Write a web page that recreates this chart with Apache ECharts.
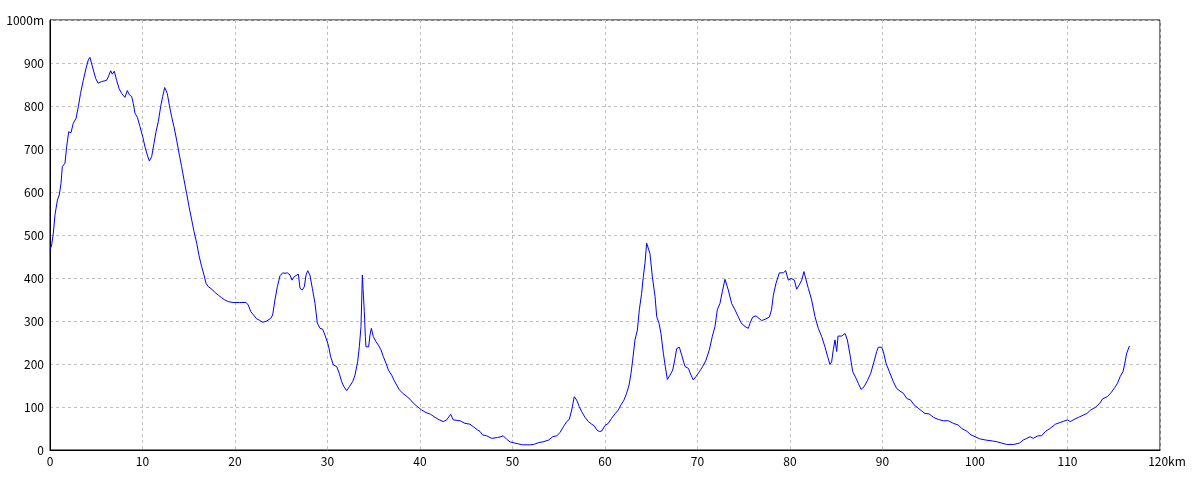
<!DOCTYPE html>
<html>
<head>
<meta charset="utf-8">
<script src="https://cdn.jsdelivr.net/npm/echarts@6/dist/echarts.min.js"></script>
<style>html,body{margin:0;padding:0;background:#fff}#c{width:1200px;height:480px}</style>
</head>
<body>
<div id="c"></div>
<script>
const distKm = [0,0.18,0.36,0.54,0.8,1.0,1.19,1.33,1.62,1.8,2.02,2.27,2.52,2.81,3.06,3.3,3.6,3.9,4.14,4.32,4.5,4.68,4.94,5.2,5.33,5.59,5.84,6.13,6.34,6.56,6.74,6.95,7.2,7.46,7.75,8.1,8.36,8.58,8.83,9.0,9.19,9.44,9.73,10.02,10.27,10.52,10.74,10.99,11.24,11.46,11.71,11.96,12.18,12.4,12.54,12.68,12.9,13.15,13.4,13.69,13.95,14.23,14.49,14.77,15.03,15.32,15.57,15.86,16.1,16.4,16.65,16.86,17.1,17.5,17.8,18.2,18.56,18.9,19.28,19.8,20.5,21.2,21.44,21.7,22.0,22.34,22.63,23.0,23.42,23.86,24.07,24.32,24.58,24.86,25.15,25.4,25.66,25.8,25.95,26.16,26.4,26.6,26.85,27.03,27.28,27.5,27.68,27.86,28.1,28.36,28.65,28.9,29.19,29.48,29.73,30.09,30.34,30.63,30.99,31.28,31.53,31.78,32.07,32.36,32.72,32.97,33.26,33.44,33.62,33.77,33.84,33.98,34.09,34.16,34.45,34.59,34.74,34.95,35.24,35.5,35.78,36.04,36.32,36.58,36.94,37.22,37.48,37.77,38.13,38.49,38.92,39.28,39.71,40.18,40.65,41.15,41.62,42.09,42.52,42.88,43.32,43.6,44.32,44.86,45.4,45.77,46.2,46.49,46.77,47.2,47.75,48.36,48.76,49.0,49.37,49.73,50.27,51.1,51.9,52.3,52.8,53.3,53.9,54.35,54.8,55.14,55.5,55.86,56.14,56.4,56.68,56.94,57.22,57.48,57.84,58.2,58.56,58.85,59.1,59.39,59.64,60.0,60.36,60.72,61.08,61.44,61.73,62.05,62.34,62.6,62.81,62.99,63.24,63.5,63.71,63.96,64.14,64.32,64.5,64.68,64.86,65.12,65.41,65.59,65.84,66.05,66.31,66.52,66.74,67.03,67.32,67.57,67.75,68.04,68.29,68.65,69.01,69.3,69.55,69.84,70.2,70.56,70.92,71.28,71.6,71.89,72.14,72.43,72.68,72.97,73.33,73.69,74.05,74.41,74.7,75.14,75.5,75.68,75.96,76.32,76.65,76.94,77.3,77.77,78.0,78.2,78.49,78.85,79.28,79.53,79.82,80.11,80.47,80.72,81.0,81.27,81.5,81.69,81.98,82.34,82.7,83.06,83.42,83.78,84.07,84.32,84.5,84.68,84.86,85.05,85.19,85.59,85.95,86.2,86.49,86.78,87.14,87.39,87.68,88.0,88.36,88.72,89.08,89.37,89.55,89.91,90.09,90.38,90.74,91.17,91.53,91.89,92.25,92.61,93.05,93.41,93.87,94.23,94.59,95.03,95.5,96.04,96.58,97.12,97.66,98.2,98.56,99.1,99.57,100.0,100.5,101.2,101.9,102.4,102.9,103.4,104.2,104.8,105.2,105.6,105.96,106.3,106.8,107.2,107.6,108.1,108.7,109.2,109.6,110.0,110.3,110.7,111.2,111.7,112.1,112.5,113.0,113.5,113.8,114.3,114.7,115.1,115.4,115.7,116.0,116.2,116.4,116.7];
const elevM = [465,477,504,547,581,593,620,659,667,705,740,738,760,771,798,829,860,888,907,913,911,884,864,853,849,857,858,860,870,882,874,881,860,841,829,820,836,826,822,806,783,774,752,729,705,686,672,682,713,740,764,798,822,843,847,829,802,775,752,721,690,659,628,597,566,535,508,481,453,426,407,388,380,374,367,360,354,349,345,343,343,343,337,322,314,305,302,297,300,306,314,349,380,405,412,411,412,416,407,395,403,399,409,376,372,380,407,417,407,376,341,295,283,281,267,244,217,198,194,178,159,147,138,147,159,174,205,240,287,407,376,322,264,240,240,267,283,264,252,244,233,217,202,186,174,161,151,140,132,126,118,109,101,93,87,83,76,70,66,70,83,70,68,62,60,54,47,43,35,33,27,29,31,33,25,19,16,12,12,13,17,19,23,31,33,41,54,66,71,93,124,116,101,89,76,66,60,56,47,43,44,57,62,74,84,93,105,116,132,151,178,209,256,279,326,364,403,434,481,481,457,403,357,310,295,271,225,194,164,174,186,213,236,239,221,194,190,174,163,171,182,194,209,233,264,287,326,341,368,397,372,341,326,310,296,287,283,295,309,312,306,301,304,309,326,360,388,412,412,417,395,399,395,374,384,395,415,411,376,349,310,283,264,240,217,199,205,233,256,229,265,265,271,256,221,182,167,155,141,147,161,178,205,229,239,239,229,202,182,159,143,137,132,120,116,105,97,91,85,84,76,71,68,68,62,58,50,44,35,31,26,23,21,19,16,13,13,16,23,27,31,27,33,33,43,50,60,64,67,70,66,71,76,81,85,93,99,109,119,124,133,145,155,171,182,202,225,242];
const xTicks = {min: 0, max: 120, step: 10, unit: 'km'};
const yTicks = {min: 0, max: 1000, step: 100, unit: 'm'};

const seriesData = distKm.map((d, i) => [d, elevM[i]]);
const FONT = '"Noto Sans CJK JP","Liberation Sans",sans-serif';

const chart = echarts.init(document.getElementById('c'), null, {renderer: 'canvas'});
chart.setOption({
  animation: false,
  backgroundColor: '#ffffff',
  grid: {left: 50, right: 40, top: 20, bottom: 30, show: true, borderColor: '#000', borderWidth: 1, backgroundColor: 'transparent'},
  xAxis: {
    type: 'value', min: xTicks.min, max: xTicks.max, interval: xTicks.step,
    axisLine: {show: true, onZero: false, lineStyle: {color: '#000', width: 1}},
    axisTick: {show: false},
    axisLabel: {
      color: '#000', fontFamily: FONT, fontSize: 12, margin: 5,
      formatter: v => v === xTicks.max ? '{u|' + v + xTicks.unit + '}' : String(v),
      rich: {u: {color: '#000', fontFamily: FONT, fontSize: 12, padding: [0, 0, 0, 14]}}
    },
    splitLine: {show: true, lineStyle: {color: '#c0c0c0', type: [3, 3], width: 1}}
  },
  yAxis: {
    type: 'value', min: yTicks.min, max: yTicks.max, interval: yTicks.step,
    axisLine: {show: true, onZero: false, lineStyle: {color: '#000', width: 1}},
    axisTick: {show: false},
    axisLabel: {
      color: '#000', fontFamily: FONT, fontSize: 12, margin: 6,
      formatter: v => v === yTicks.max ? v + yTicks.unit : String(v)
    },
    splitLine: {show: true, lineStyle: {color: '#c0c0c0', type: [3, 3], width: 1}}
  },
  series: [{
    type: 'line', data: seriesData, showSymbol: false, symbol: 'none',
    lineStyle: {color: '#0000ff', width: 1}, z: 3
  }]
});
</script>
</body>
</html>
